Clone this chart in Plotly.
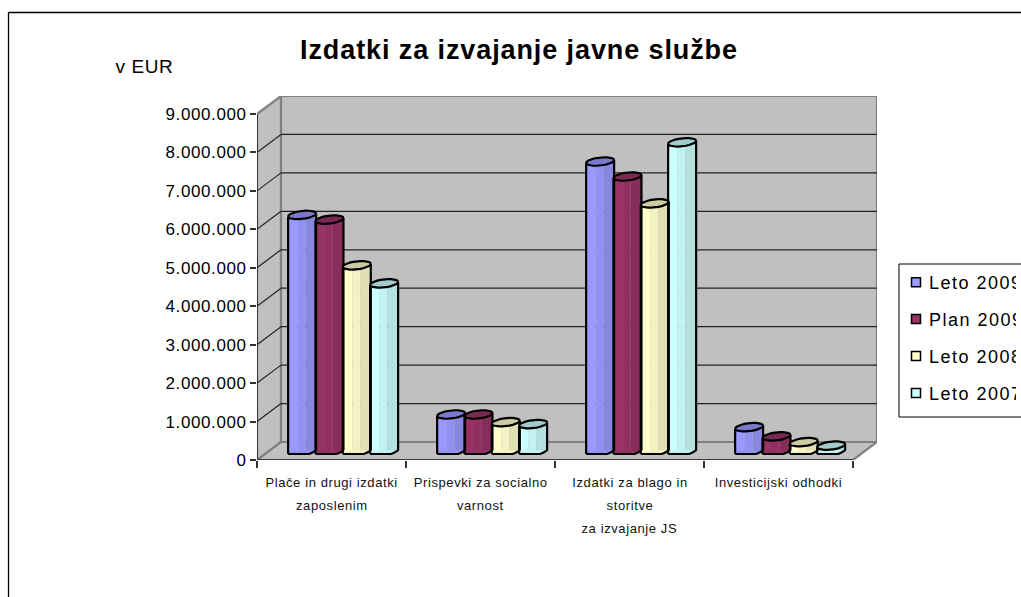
import math
import plotly.graph_objects as go

# ---- data ----
categories = [
    ["Plače in drugi izdatki", "zaposlenim"],
    ["Prispevki za socialno", "varnost"],
    ["Izdatki za blago in", "storitve", "za izvajanje JS"],
    ["Investicijski odhodki"],
]
series_names = ["Leto 2009", "Plan 2009", "Leto 2008", "Leto 2007"]
leto_2009 = [6140000, 950000, 7530000, 620000]
plan_2009 = [6020000, 950000, 7140000, 380000]
leto_2008 = [4830000, 750000, 6440000, 230000]
leto_2007 = [4360000, 700000, 8030000, 140000]
series_values = [leto_2009, plan_2009, leto_2008, leto_2007]
y_ticks = [0, 1000000, 2000000, 3000000, 4000000, 5000000, 6000000, 7000000, 8000000, 9000000]
y_tick_labels = ["0", "1.000.000", "2.000.000", "3.000.000", "4.000.000", "5.000.000",
                 "6.000.000", "7.000.000", "8.000.000", "9.000.000"]
title_text = "Izdatki za izvajanje javne službe"
unit_text = "v EUR"

# ---- styles ----
base_colors = [(153, 153, 255), (153, 51, 102), (255, 255, 204), (204, 255, 255)]
WALL = "#C0C0C0"
EDGE = "#808080"
FONT = "Liberation Sans"

W, H = 1021, 597
X0, X4 = 257, 853      # front axis, px
Y0, Y9 = 460, 114      # front value axis, px
DEPTH_X, DEPTH_Y = 24, 18
PXX = 1 / ((X4 - X0) / 4)                  # category units per px
PXY = 9000000 / (Y0 - Y9)                  # value units per px
xmax = 4 + DEPTH_X * PXX
ymax = 9000000 + DEPTH_Y * PXY
dxb, dyb = DEPTH_X * PXX, DEPTH_Y * PXY

def rgb(c, f=1.0):
    return "rgb(%d,%d,%d)" % tuple(round(v * f) for v in c)

def px(x):   # page px -> paper
    return (x - X0) / (X4 + DEPTH_X - X0)

def py(y):
    return (Y0 - y) / (Y0 - (Y9 - DEPTH_Y))

fig = go.Figure()

# ---- column geometry, px expressed in axis units ----
COL_W = 28
COL_PITCH = 27.33
GROUP_SHIFT = 0.078
BASE_Y = 9 * PXY
A, B, K = COL_W / 2, 4.0, 1.5
BANDS = [(0.0, 0.34, 1.0), (0.34, 0.62, 0.95), (0.62, 1.0, 0.88)]

def centre(cat, s):
    return cat + 0.5 + GROUP_SHIFT + (s - 1.5) * COL_PITCH * PXX

def ellipse(cx, yc, start=0.0, end=2 * math.pi, n=24):
    xs, ys = [], []
    for i in range(n + 1):
        t = start + (end - start) * i / n
        xs.append(cx + A * math.cos(t) * PXX)
        ys.append(yc + (B * math.sin(t) + K * math.cos(t)) * PXY)
    return xs, ys

# column bodies: real bars, one per shading band
for s, vals in enumerate(series_values):
    for (f0, f1, shade) in BANDS:
        fig.add_trace(go.Bar(
            x=[centre(c, s) for c in range(4)],
            y=vals,
            base=BASE_Y,
            width=(f1 - f0) * COL_W * PXX,
            offset=(f0 - 0.5) * COL_W * PXX,
            marker=dict(color=rgb(base_colors[s], shade), line=dict(width=0)),
            showlegend=False, hoverinfo="skip",
        ))

# caps and outlines, painted back to front
for s, vals in enumerate(series_values):
    capx, capy, topx, topy, linex, liney = [], [], [], [], [], []
    for c, v in enumerate(vals):
        cx = centre(c, s)
        yc = v + BASE_Y
        L, R = cx - A * PXX, cx + A * PXX
        # lower cap, squared off at the left like the source
        bx, by = ellipse(cx, BASE_Y, math.pi, 2 * math.pi, 12)
        by = [BASE_Y - 3 * PXY if (x < cx + 8 * PXX) else y for x, y in zip(bx, by)]
        bx = [L] + bx + [R, L]
        by = [BASE_Y - 3 * PXY] + by + [BASE_Y + 1 * PXY, BASE_Y]
        capx += bx + [None]
        capy += by + [None]
        ex, ey = ellipse(cx, yc)
        topx += ex + [None]
        topy += ey + [None]
        # silhouette + front rim
        linex += [L, L] + ex[12:25] + [None]
        liney += [BASE_Y - 3 * PXY, yc - K * PXY] + ey[12:25] + [None]
        linex += [R, R] + [None]
        liney += [yc + K * PXY, BASE_Y + 1 * PXY] + [None]
        linex += [L] + [x for x in bx[1:14]] + [None]
        liney += [BASE_Y - 3 * PXY] + [y for y in by[1:14]] + [None]
        ux, uy = ellipse(cx, yc, 0, math.pi, 12)
        linex += ux + [None]
        liney += uy + [None]
    fig.add_trace(go.Scatter(x=capx, y=capy, mode="lines", fill="toself",
                             fillcolor=rgb(base_colors[s], 0.95), line=dict(width=0),
                             showlegend=False, hoverinfo="skip"))
    fig.add_trace(go.Scatter(x=topx, y=topy, mode="lines", fill="toself",
                             fillcolor=rgb(base_colors[s], 0.8), line=dict(width=0),
                             showlegend=False, hoverinfo="skip"))
    fig.add_trace(go.Scatter(x=linex, y=liney, mode="lines",
                             line=dict(color="black", width=2.2),
                             connectgaps=False, showlegend=False, hoverinfo="skip"))

# legend entries
for s, name in enumerate(series_names):
    fig.add_trace(go.Scatter(x=[None], y=[None], mode="markers", name=name,
                             legendgroup=name,
                             marker=dict(symbol="square", size=9, color=rgb(base_colors[s]),
                                         line=dict(color="black", width=1.5))))

# ---- walls, floor, gridlines ----
shapes = []
def poly(pts, fill, lc=EDGE, lw=2.2):
    d = "M " + " L ".join("%f %f" % p for p in pts) + " Z"
    shapes.append(dict(type="path", path=d, xref="x", yref="y", fillcolor=fill,
                       line=dict(color=lc, width=lw), layer="below"))

poly([(0, 0), (dxb, dyb), (dxb, 9000000 + dyb), (0, 9000000)], WALL)
poly([(dxb, dyb), (xmax, dyb), (xmax, 9000000 + dyb), (dxb, 9000000 + dyb)], WALL)
poly([(0, 0), (4, 0), (xmax, dyb), (dxb, dyb)], WALL)
for v in y_ticks[1:-1]:
    shapes.append(dict(type="line", xref="x", yref="y", x0=0, y0=v, x1=dxb, y1=v + dyb,
                       line=dict(color="#222222", width=1.2), layer="below"))
    shapes.append(dict(type="line", xref="x", yref="y", x0=dxb, y0=v + dyb, x1=xmax, y1=v + dyb,
                       line=dict(color="#222222", width=1.2), layer="below"))
# front axis lines
shapes.append(dict(type="line", xref="x", yref="y", x0=0, y0=0, x1=0, y1=9000000,
                   line=dict(color="#333333", width=2), layer="above"))
shapes.append(dict(type="line", xref="x", yref="y", x0=0, y0=0, x1=4, y1=0,
                   line=dict(color="#222222", width=1.5), layer="above"))
# chart frame (runs off the page on the right and bottom)
shapes.append(dict(type="line", xref="paper", yref="paper", x0=px(8.5), y0=py(12.5), x1=px(8.5), y1=py(600),
                   line=dict(color="black", width=1.3), layer="above"))
shapes.append(dict(type="line", xref="paper", yref="paper", x0=px(8.5), y0=py(12.5), x1=px(1030), y1=py(12.5),
                   line=dict(color="black", width=1.3), layer="above"))
# legend frame
shapes.append(dict(type="rect", xref="paper", yref="paper", x0=px(899), y0=py(264), x1=px(1040), y1=py(417),
                   line=dict(color="black", width=1), fillcolor="white", layer="below"))

# ---- text ----
annotations = []
LINE_GAP = 23
for c, lines in enumerate(categories):
    for i, line in enumerate(lines):
        annotations.append(dict(x=c + 0.5, y=0, xref="x", yref="y", text=line, showarrow=False,
                                xanchor="center", yanchor="middle", yshift=-(22 + i * LINE_GAP),
                                font=dict(family=FONT, size=13, color="#111111")))
annotations.append(dict(x=px(144.5), y=py(66), xref="paper", yref="paper", text=unit_text,
                        showarrow=False, xanchor="center", yanchor="middle",
                        font=dict(family=FONT, size=19, color="black")))

fig.update_layout(
    width=W, height=H,
    margin=dict(l=X0, r=W - X4 - DEPTH_X, t=Y9 - DEPTH_Y, b=H - Y0, pad=0, autoexpand=False),
    paper_bgcolor="white", plot_bgcolor="rgba(0,0,0,0)",
    barmode="overlay",
    title=dict(text=title_text, x=519 / W, y=1 - 50 / H, xref="container", yref="container",
               xanchor="center", yanchor="middle",
               font=dict(family=FONT, size=27, color="black", weight="bold")),
    xaxis=dict(range=[0, xmax], tickmode="array", tickvals=[0, 1, 2, 3, 4], ticktext=["", "", "", "", ""],
               ticks="outside", ticklen=7, tickwidth=1.5, tickcolor="#333333",
               showgrid=False, zeroline=False, showline=False, fixedrange=True),
    yaxis=dict(range=[0, ymax], tickmode="array", tickvals=y_ticks, ticktext=y_tick_labels,
               ticks="outside", ticklen=6, tickwidth=1.5, tickcolor="#333333",
               tickfont=dict(family=FONT, size=17, color="black"),
               showgrid=False, zeroline=False, showline=False, fixedrange=True),
    legend=dict(x=px(889), y=py(264), xanchor="left", yanchor="top",
                font=dict(family=FONT, size=18, color="black"),
                bgcolor="rgba(0,0,0,0)", borderwidth=0, tracegroupgap=10.5, traceorder="grouped",
                itemclick=False, itemdoubleclick=False),
    shapes=shapes, annotations=annotations, showlegend=True,
    hovermode=False,
)

style = """
var st=document.createElement('style');
st.textContent="body{margin:0;overflow:hidden}"
+".legend .legendsymbols{transform:translateX(7px)}"
+".legendtext{letter-spacing:1.5px}"
+".ytick text{letter-spacing:0.6px}"
+".gtitle{letter-spacing:0.9px}"
+".annotation-text{letter-spacing:0.6px}";
document.head.appendChild(st);
"""
fig.write_html("out.html", post_script=style, config=dict(displayModeBar=False))
